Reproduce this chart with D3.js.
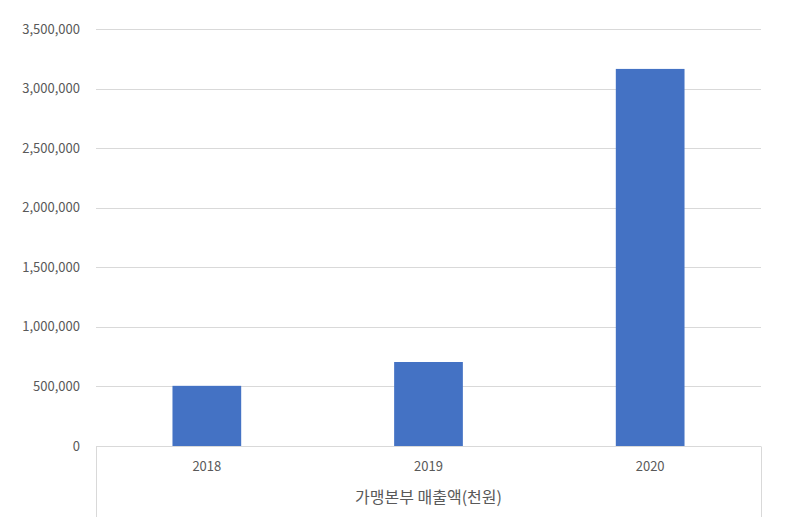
<!DOCTYPE html>
<html>
<head>
<meta charset="utf-8">
<script src="https://cdn.jsdelivr.net/npm/d3@7"></script>
<style>
  body { margin: 0; background: #fff; }
  text { font-family: "Noto Sans CJK KR", "Noto Sans", sans-serif; fill: #595959; }
</style>
</head>
<body>
<div id="chart"></div>
<script>
const years = ['2018', '2019', '2020'];
const sales = [505000, 705000, 3165000];
const yTicks = [0, 500000, 1000000, 1500000, 2000000, 2500000, 3000000, 3500000];
const axisTitle = '가맹본부 매출액(천원)';

const width = 789, height = 517;
const margin = { left: 96, right: 28, top: 29, bottom: 71 };

const svg = d3.select('#chart')
    .append('svg')
    .attr('width', width)
    .attr('height', height);

const x = d3.scaleBand()
    .domain(years)
    .range([margin.left, width - margin.right])
    .paddingInner(0.69)
    .paddingOuter(0.345);

const y = d3.scaleLinear()
    .domain([0, 3500000])
    .range([height - margin.bottom, margin.top]);

// gridlines
svg.append('g')
    .selectAll('line')
    .data(yTicks.slice(1))
    .enter()
    .append('line')
    .attr('x1', margin.left)
    .attr('x2', width - margin.right)
    .attr('y1', d => Math.round(y(d)) + 0.5)
    .attr('y2', d => Math.round(y(d)) + 0.5)
    .attr('stroke', '#d9d9d9')
    .attr('stroke-width', 1);

// y labels
const fmt = d3.format(',');
svg.append('g')
    .selectAll('text')
    .data(yTicks)
    .enter()
    .append('text')
    .attr('x', 80)
    .attr('y', d => y(d))
    .attr('dy', '0.35em')
    .attr('text-anchor', 'end')
    .style('font-size', '13px')
    .text(d => fmt(d));

// bars
svg.append('g')
    .selectAll('rect')
    .data(sales)
    .enter()
    .append('rect')
    .attr('x', (d, i) => x(years[i]))
    .attr('width', x.bandwidth())
    .attr('y', d => y(d))
    .attr('height', d => y(0) - y(d))
    .attr('fill', '#4472c4');

// bottom box: axis line + side borders
const y0 = Math.round(y(0)) + 0.5;
svg.append('line')
    .attr('x1', margin.left).attr('x2', width - margin.right)
    .attr('y1', y0).attr('y2', y0)
    .attr('stroke', '#d9d9d9');
[margin.left + 0.5, width - margin.right + 0.5].forEach(xx => {
    svg.append('line')
        .attr('x1', xx).attr('x2', xx)
        .attr('y1', y0).attr('y2', height)
        .attr('stroke', '#d9d9d9');
});

// category labels
svg.append('g')
    .selectAll('text')
    .data(years)
    .enter()
    .append('text')
    .attr('x', d => x(d) + x.bandwidth() / 2)
    .attr('y', 466)
    .attr('dy', '0.35em')
    .attr('text-anchor', 'middle')
    .style('font-size', '13px')
    .text(d => d);

svg.append('text')
    .attr('x', (margin.left + width - margin.right) / 2)
    .attr('y', 497)
    .attr('dy', '0.35em')
    .attr('text-anchor', 'middle')
    .style('font-size', '16px')
    .text(axisTitle);
</script>
</body>
</html>
